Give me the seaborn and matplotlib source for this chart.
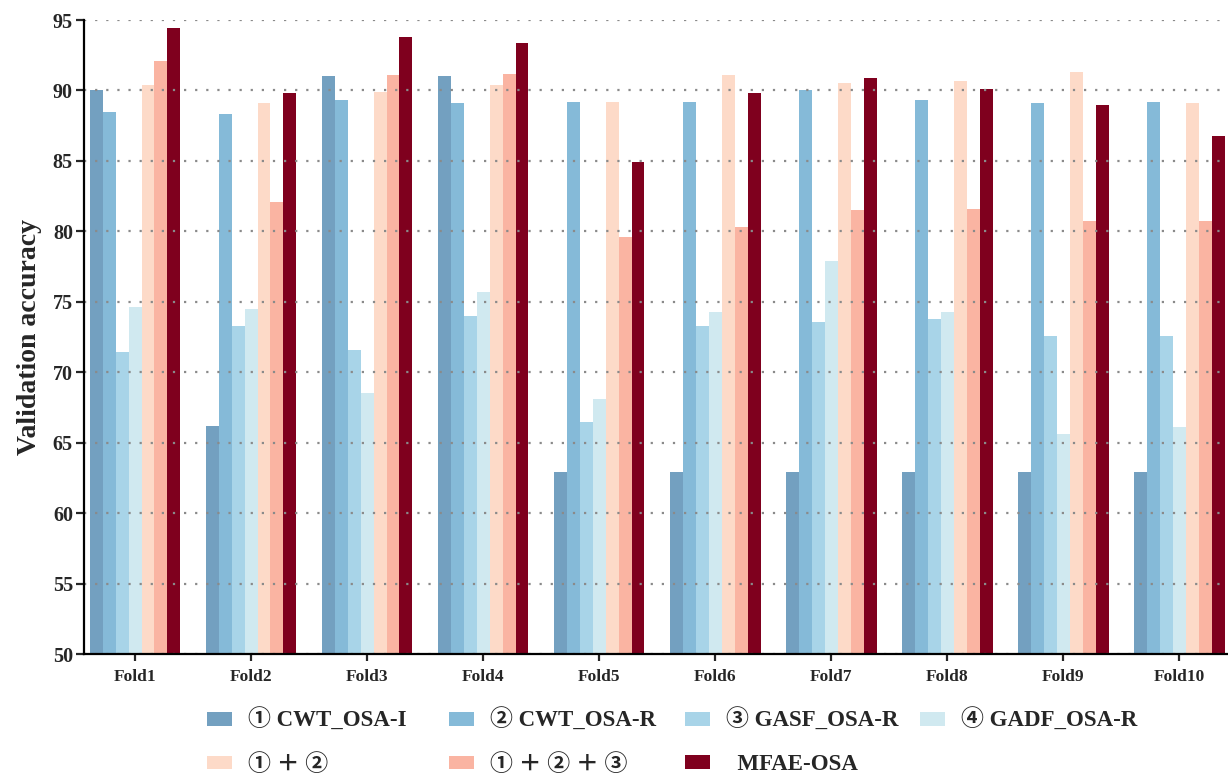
import numpy as np
import pandas as pd
import matplotlib
matplotlib.use('Agg')
import matplotlib.pyplot as plt
import matplotlib.patches as mpatches
import seaborn as sns

folds = ['Fold1', 'Fold2', 'Fold3', 'Fold4', 'Fold5', 'Fold6', 'Fold7', 'Fold8', 'Fold9', 'Fold10']
models = ['① CWT_OSA-I', '② CWT_OSA-R', '③ GASF_OSA-R', '④ GADF_OSA-R',
          '① ＋ ②', '① ＋ ② ＋ ③', '  MFAE-OSA']

# validation accuracy per model, one value per fold
cwt_i = [90.0, 66.2, 91.0, 91.0, 62.9, 62.9, 62.9, 62.9, 62.9, 62.9]
cwt_r = [88.5, 88.3, 89.3, 89.1, 89.2, 89.2, 90.0, 89.3, 89.1, 89.2]
gasf_r = [71.4, 73.3, 71.6, 74.0, 66.5, 73.3, 73.6, 73.8, 72.6, 72.6]
gadf_r = [74.6, 74.5, 68.5, 75.7, 68.1, 74.3, 77.9, 74.3, 65.6, 66.1]
fuse_12 = [90.4, 89.1, 89.9, 90.4, 89.2, 91.1, 90.5, 90.7, 91.3, 89.1]
fuse_123 = [92.1, 82.1, 91.1, 91.2, 79.6, 80.3, 81.5, 81.6, 80.7, 80.7]
mfae = [94.4, 89.8, 93.8, 93.4, 84.9, 89.8, 90.9, 90.1, 89.0, 86.8]

colors = ['#73a0c0', '#85bad8', '#a8d4e8', '#d0e9f0', '#fddac8', '#fab4a2', '#7f001e']

sns.set_style('ticks')
fonts = ['Liberation Serif', 'Noto Sans CJK SC', 'DejaVu Sans']
plt.rcParams['font.family'] = fonts
plt.rcParams['font.weight'] = 'bold'

series = [cwt_i, cwt_r, gasf_r, gadf_r, fuse_12, fuse_123, mfae]
rows = []
for m, vals in zip(models, series):
    for f, v in zip(folds, vals):
        rows.append({'fold': f, 'model': m, 'acc': v})
df = pd.DataFrame(rows)

fig = plt.figure(figsize=(12.28, 7.8), dpi=100)
ax = fig.add_axes([84 / 1228, 1 - 654 / 780, (1227 - 84) / 1228, (654 - 20) / 780])

sns.barplot(data=df, x='fold', y='acc', hue='model', hue_order=models, order=folds,
            palette=colors, saturation=1, width=0.78, linewidth=0, errorbar=None,
            legend=False, ax=ax)

ax.set_ylim(50, 95)
ax.set_yticks(np.arange(50, 96, 5))
ax.set_xlim(-0.44, 9.41)

# dotted grid drawn on top of the bars
ax.set_axisbelow(False)
ax.yaxis.grid(True, color='#8a8a8a', linestyle=(0, (1, 4)), linewidth=1.6)
ax.xaxis.grid(False)

for s in ['top', 'right']:
    ax.spines[s].set_visible(False)
for s in ['left', 'bottom']:
    ax.spines[s].set_linewidth(1.6)
    ax.spines[s].set_color('black')
    ax.spines[s].set_zorder(5)

ax.tick_params(axis='y', length=6, width=1.6, labelsize=14.5, pad=2)
ax.tick_params(axis='x', length=5, width=1.6, labelsize=12.5, pad=6)
for t in ax.get_xticklabels() + ax.get_yticklabels():
    t.set_fontweight('bold')

ax.set_xlabel('')
ax.set_ylabel('Validation accuracy', fontsize=20, fontweight='bold', labelpad=8)

# legend: 4 columns laid out row by row, one small legend per column
handles = [mpatches.Patch(facecolor=c, edgecolor='none', label=m) for c, m in zip(colors, models)]
columns = [[0, 4], [1, 5], [2, 6], [3]]
col_x = [207, 449, 685, 920]
for idx, x in zip(columns, col_x):
    fig.legend([handles[i] for i in idx], [models[i] for i in idx],
               loc='upper left', bbox_to_anchor=(x / 1228, 1 - 709 / 780),
               frameon=False, borderpad=0, borderaxespad=0,
               handlelength=1.1, handleheight=0.55, handletextpad=0.7,
               labelspacing=0.95,
               prop={'family': fonts, 'weight': 'bold', 'size': 16.5})

fig.savefig('out.png', dpi=100)
